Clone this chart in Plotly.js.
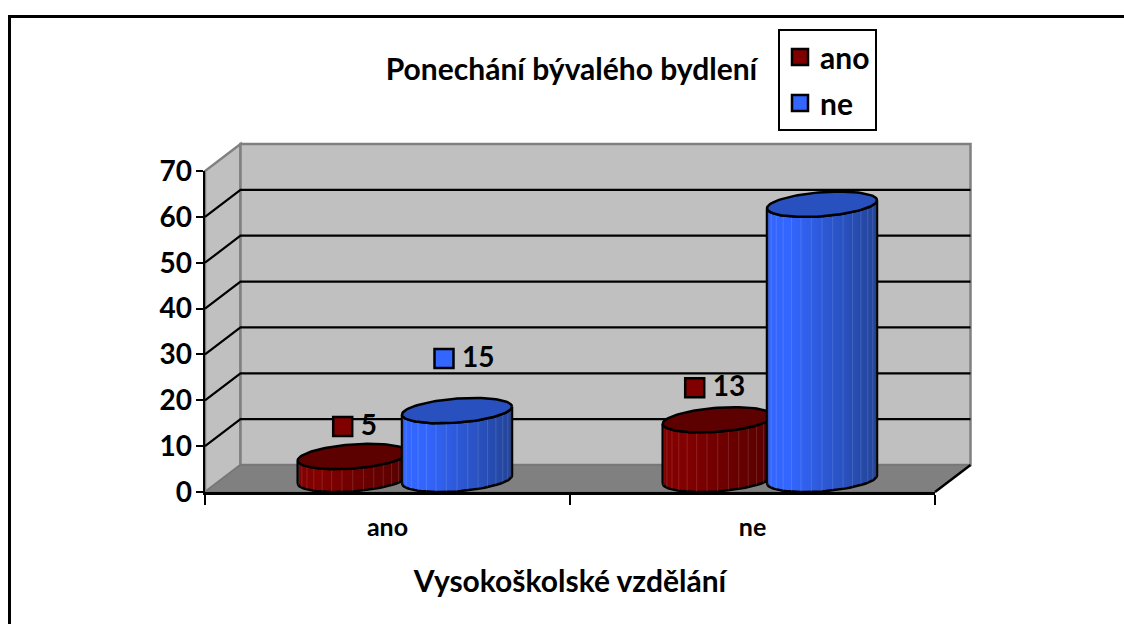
<!DOCTYPE html>
<html><head><meta charset="utf-8">
<script src="https://cdn.plot.ly/plotly-3.0.1.min.js"></script>
<style>html,body{margin:0;padding:0;background:#fff}#c{width:1124px;height:624px}</style>
</head><body><div id="c"></div>
<script>
const categories = ["ano", "ne"];
const seriesNames = ["ano", "ne"];
const anoValues = [5, 13];
const neValues = [15, 60];
const yTicks = [0, 10, 20, 30, 40, 50, 60, 70];
const chartTitle = "Ponechání bývalého bydlení";
const xTitle = "Vysokoškolské vzdělání";

// plot frame in pixels
const L = 205, R = 935, T = 171, B = 492, DX = 35.5, DY = 27;
const W = 1124, H = 624;
const pxX = (R - L) / 2, pxY = (B - T) / 70;
const px = x => (x - L) / (R - L), py = y => (B - y) / (B - T);
const font = "Lato, 'Open Sans', sans-serif";

// cylinder geometry in pixels, turned into axis units
const a = 55 / pxX, b = 12 / pxY, k = 4 / pxY, baseY = 2.75;
const offsets = [-34.8 / pxX, 69.5 / pxX];
const labelShift = [[[-10, 30], [-23, 32]], [[-13, 52], [-16, 36]]];
const styles = [
  {left: "#820000", right: "#560000", top: "#5c0000", key: "#800000"},
  {left: "#3366ff", right: "#234498", top: "#2850bf", key: "#3366ff"}
];
const N = 48;
const ell = (cx, cy, t) => [cx + a * Math.cos(t), cy - b * Math.sin(t) + k * Math.cos(t)];

const traces = [];
const series = [anoValues, neValues];
series.forEach((vals, s) => {
  const st = styles[s];
  vals.forEach((v, c) => {
    const cx = c + offsets[s], top = v + baseY;
    // body
    const bx = [], by = [];
    for (let i = 0; i <= N; i++) { const p = ell(cx, baseY, Math.PI - Math.PI * i / N); bx.push(p[0]); by.push(p[1]); }
    for (let i = 0; i <= N; i++) { const p = ell(cx, top, Math.PI * i / N); bx.push(p[0]); by.push(p[1]); }
    bx.push(bx[0]); by.push(by[0]);
    traces.push({type: "scatter", mode: "lines", x: bx, y: by, fill: "toself", cliponaxis: false,
      fillgradient: {type: "horizontal", colorscale: [[0, st.left], [0.2, st.left], [1, st.right]]},
      line: {color: "#000", width: 2.5}, showlegend: false, hoverinfo: "skip"});
    // ribs
    const rx = [], ry = [];
    for (let i = 1; i < 16; i++) {
      const t = Math.PI * i / 16;
      const p = ell(cx, baseY, t), q = ell(cx, top, t);
      rx.push(p[0], q[0], null); ry.push(p[1], q[1], null);
    }
    traces.push({type: "scatter", mode: "lines", x: rx, y: ry, cliponaxis: false,
      line: {color: "rgba(255,255,255,0.13)", width: 1}, showlegend: false, hoverinfo: "skip"});
    // top
    const tx = [], ty = [];
    for (let i = 0; i <= 2 * N; i++) { const p = ell(cx, top, Math.PI * i / N); tx.push(p[0]); ty.push(p[1]); }
    traces.push({type: "scatter", mode: "lines", x: tx, y: ty, fill: "toself", fillcolor: st.top, cliponaxis: false,
      line: {color: "#000", width: 2.5}, showlegend: false, hoverinfo: "skip"});
  });
});
// data labels: key square + value; the key squares also feed the legend
series.forEach((vals, s) => {
  const st = styles[s];
  const mx = vals.map((v, c) => c + offsets[s] + labelShift[s][c][0] / pxX);
  const my = vals.map((v, c) => v + baseY + labelShift[s][c][1] / pxY);
  traces.push({type: "scatter", mode: "markers", name: seriesNames[s], legendgroup: seriesNames[s],
    x: mx, y: my, cliponaxis: false,
    marker: {symbol: "square", size: 19, color: st.key, line: {color: "#000", width: 2.5}}, hoverinfo: "skip"});
  traces.push({type: "scatter", mode: "text", x: mx.map(x => x + 18 / pxX), y: my.map(y => y - 1.5 / pxY), text: vals.map(String),
    textposition: "middle right", cliponaxis: false, showlegend: false, hoverinfo: "skip",
    textfont: {family: font, size: 28, weight: 700, color: "#000"}});
});

// wall, floor and gridlines of the 3D box
const poly = pts => "M" + pts.map(p => px(p[0]) + "," + py(p[1])).join(" L") + " Z";
const shapes = [];
const add = (path, fill, color, width) => shapes.push({type: "path", xref: "paper", yref: "paper", path, layer: "below",
  fillcolor: fill, line: {color: color, width: width}});
add(poly([[L, B], [L + DX, B - DY], [L + DX, T - DY], [L, T]]), "#c0c0c0", "#808080", 2.5);
add(poly([[L + DX, B - DY], [R + DX, B - DY], [R + DX, T - DY], [L + DX, T - DY]]), "#c0c0c0", "#808080", 2.5);
add(poly([[L, B], [L + DX, B - DY], [R + DX, B - DY], [R, B]]), "#808080", "#707070", 1);
yTicks.slice(1, -1).forEach(v => {
  const y = B - v * pxY;
  add(`M${px(L)},${py(y)} L${px(L + DX)},${py(y - DY)} L${px(R + DX)},${py(y - DY)}`, "rgba(0,0,0,0)", "#000", 2.2);
});
add(`M${px(R)},${py(B)} L${px(R + DX)},${py(B - DY)}`, "rgba(0,0,0,0)", "#000", 2.5);
// outer frame, open on the right and at the bottom
add(`M${px(9.5)},${py(H)} L${px(9.5)},${py(16.5)} L${px(W)},${py(16.5)}`, "rgba(0,0,0,0)", "#000", 3);

const layout = {
  width: W, height: H, autosize: false,
  margin: {l: L, r: W - R, t: T, b: H - B, pad: 0},
  paper_bgcolor: "#fff", plot_bgcolor: "rgba(0,0,0,0)",
  title: {text: chartTitle, xref: "container", x: 571.5 / W, xanchor: "center", yref: "container", y: 1 - 69 / H, yanchor: "middle",
    font: {family: font, size: 30, weight: 700, color: "#000"}},
  xaxis: {range: [-0.5, 1.5], tickvals: [0, 1], ticktext: categories, ticks: "", showgrid: false, zeroline: false,
    showline: true, linecolor: "#000", linewidth: 2.5, ticklabelstandoff: 11,
    tickfont: {family: font, size: 25, weight: 700, color: "#000"},
    minor: {tickvals: [-0.5, 0.5, 1.5], ticks: "outside", ticklen: 10, tickwidth: 2, tickcolor: "#000", showgrid: false},
    title: {text: xTitle, standoff: 32, font: {family: font, size: 30, weight: 700, color: "#000"}}},
  yaxis: {range: [0, 70], tickvals: yTicks, ticks: "outside", ticklen: 7, tickwidth: 2, tickcolor: "#000",
    showgrid: false, zeroline: false, showline: true, linecolor: "#000", linewidth: 2.5, ticklabelstandoff: -2,
    tickfont: {family: font, size: 28, weight: 700, color: "#000"}},
  legend: {x: px(778), y: py(29), xanchor: "left", yanchor: "top", bgcolor: "#fff", bordercolor: "#000", borderwidth: 2,
    tracegroupgap: 4, font: {family: font, size: 30, weight: 700, color: "#000"}, itemclick: false, itemdoubleclick: false},
  shapes,
  hovermode: false
};
Plotly.newPlot("c", traces, layout, {staticPlot: true, displayModeBar: false});
</script></body></html>
